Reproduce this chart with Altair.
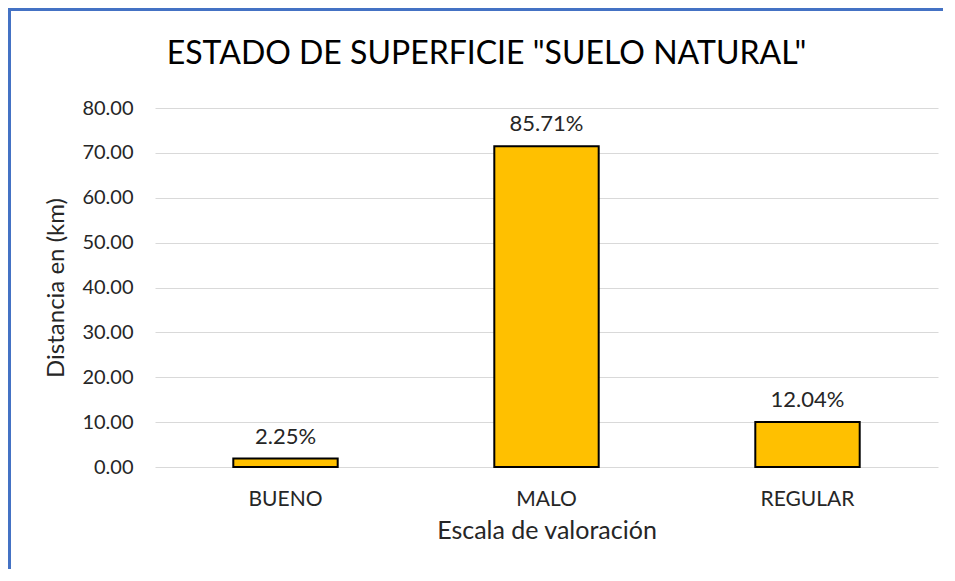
import altair as alt
import pandas as pd

categories = ["BUENO", "MALO", "REGULAR"]
values = [1.88, 71.50, 10.04]
labels = ["2.25%", "85.71%", "12.04%"]
y_ticks = [0, 10, 20, 30, 40, 50, 60, 70, 80]

df = pd.DataFrame({"cat": categories, "val": values, "lab": labels})

FONT = "Lato"
W, H = 783, 359

x = alt.X("cat:N", sort=categories,
          scale=alt.Scale(paddingInner=0.6, paddingOuter=0.3),
          axis=alt.Axis(title="Escala de valoración", labelAngle=0, ticks=False, tickSize=0,
                        domain=False, grid=False, labelPadding=38, labelBaseline="alphabetic",
                        labelFontSize=21, labelColor="#262626", labelFont=FONT,
                        titleFontSize=25, titleFont=FONT, titleFontWeight="normal",
                        titleColor="#262626", titleBaseline="alphabetic", titleY=71))
y = alt.Y("val:Q", scale=alt.Scale(domain=[0, 80]),
          axis=alt.Axis(title="Distancia en (km)", values=y_ticks, format=".2f",
                        ticks=False, tickSize=0, domain=False, labelPadding=22,
                        labelFontSize=20, labelColor="#262626", labelFont=FONT,
                        grid=True, gridColor="#d9d9d9", gridWidth=1,
                        titleFontSize=24, titleFont=FONT, titleFontWeight="normal",
                        titleColor="#262626", titleAngle=-90, titleBaseline="alphabetic",
                        titleX=-92, titleY=H / 2, titleAlign="center"))

bars = alt.Chart(df).mark_bar(color="#FFC000", stroke="#000000", strokeWidth=2).encode(x=x, y=y)
text = alt.Chart(df).mark_text(baseline="alphabetic", dy=-15, fontSize=22, font=FONT,
                               color="#262626").encode(x=x, y=y, text="lab:N")

border_top = alt.Chart(df).mark_rule(color="#4472C4", strokeWidth=3).encode(
    x=alt.value(-146), x2=alt.value(W + 20), y=alt.value(-98.5))
border_left = alt.Chart(df).mark_rule(color="#4472C4", strokeWidth=3).encode(
    x=alt.value(-145.5), y=alt.value(-100), y2=alt.value(H + 120))

chart = alt.layer(bars, text, border_top, border_left).properties(
    width=W, height=H,
    autosize=alt.AutoSizeParams(type="none"),
    padding={"left": 147, "top": 100, "right": 5, "bottom": 102},
    title=alt.TitleParams("ESTADO DE SUPERFICIE \"SUELO NATURAL\"", fontSize=32, font=FONT,
                          fontWeight="normal", color="#000000", anchor="middle", frame="group",
                          dx=-60, baseline="alphabetic", offset=-89),
).configure_view(strokeWidth=0, strokeOpacity=0).configure(
    background="white", style={"cell": {"stroke": "transparent", "strokeWidth": 0}})

chart.save("out.html", embed_options={"renderer": "svg", "actions": False})
